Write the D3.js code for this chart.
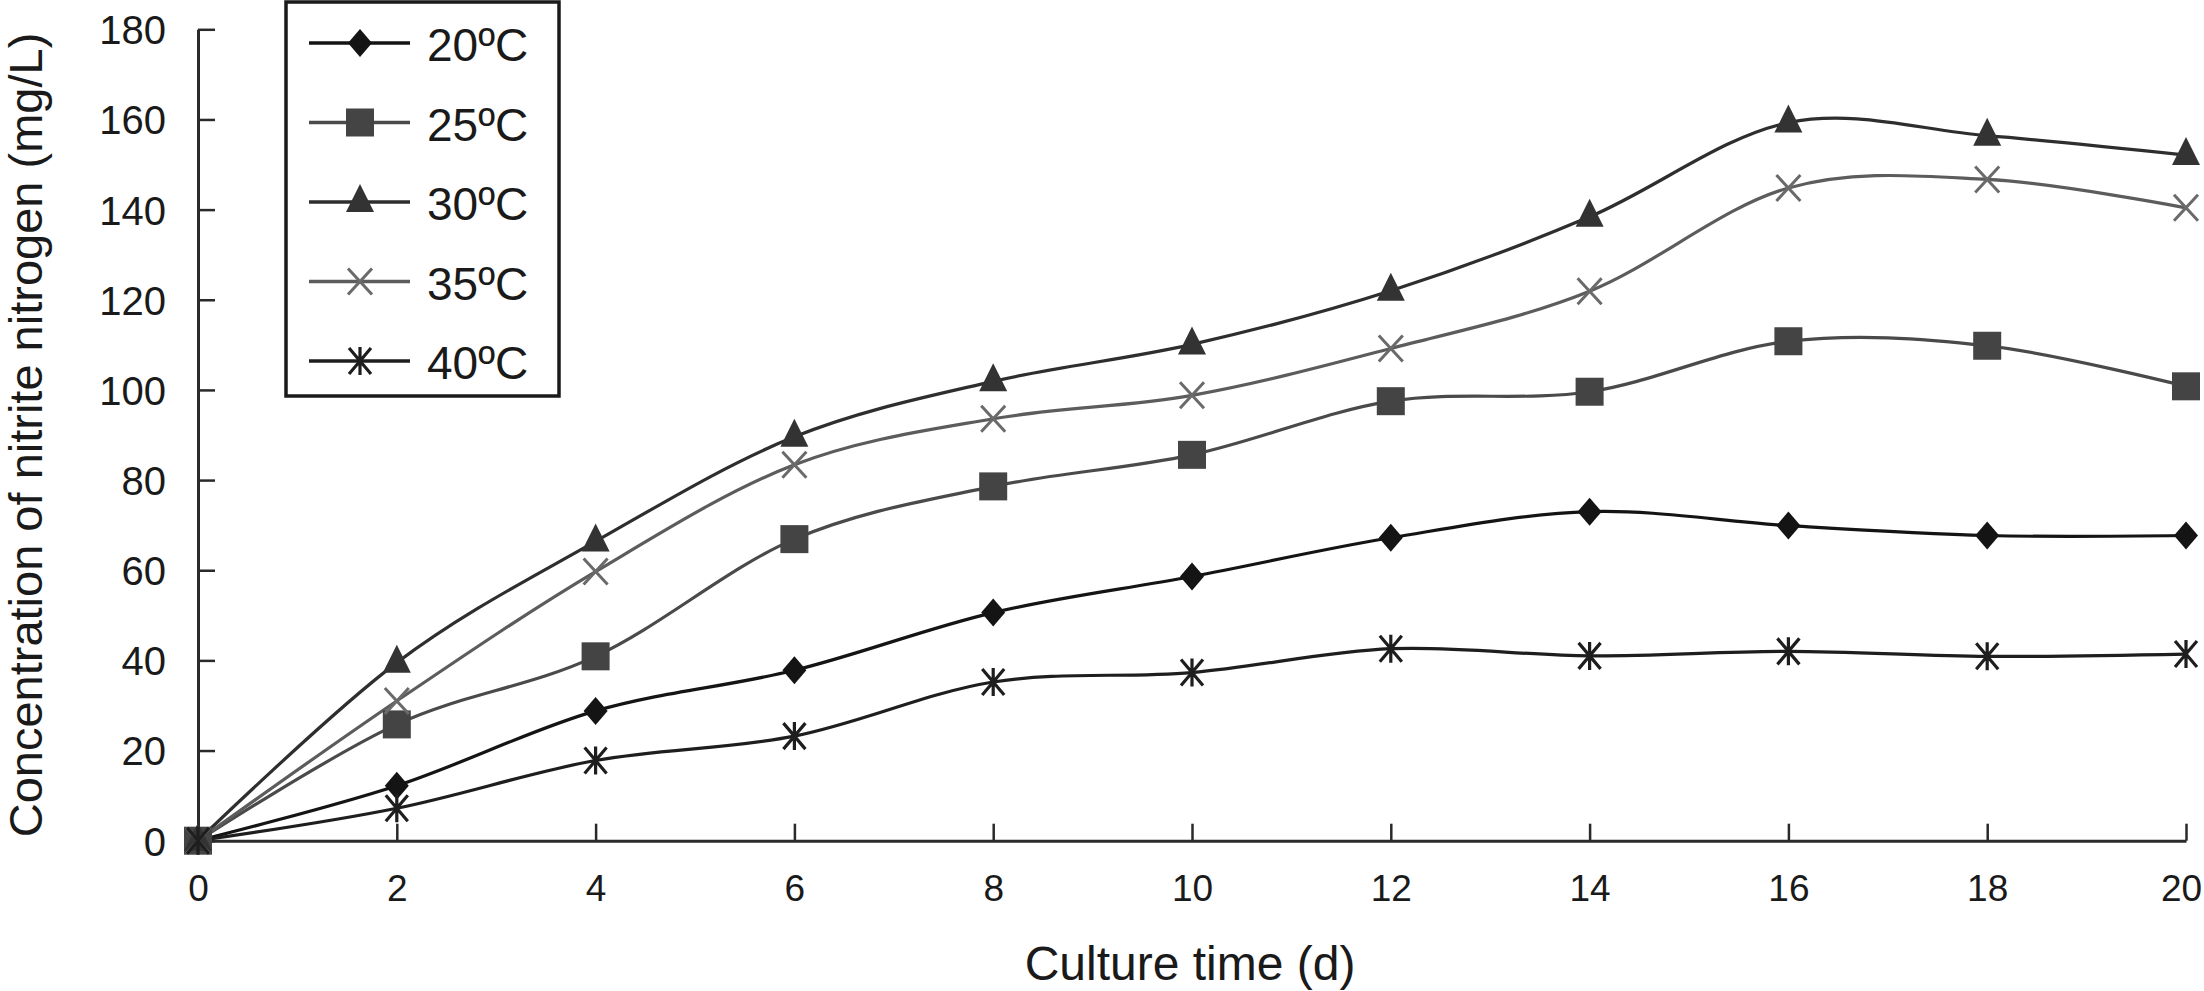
<!DOCTYPE html>
<html>
<head>
<meta charset="utf-8">
<script src="https://cdn.jsdelivr.net/npm/d3@7/dist/d3.min.js"></script>
<style>
  html, body { margin: 0; padding: 0; background: #fff; }
  svg { display: block; }
  text { font-family: "Liberation Sans", Arial, Helvetica, sans-serif; fill: #1a1a1a; }
</style>
</head>
<body>
<svg id="chart" width="2204" height="991"></svg>
<script>
// ---- data ----
const days = [0, 2, 4, 6, 8, 10, 12, 14, 16, 18, 20];
const t20 = [0, 12.2, 28.8, 37.8, 50.6, 58.6, 67.2, 73.0, 69.9, 67.7, 67.7];
const t25 = [0, 25.8, 40.9, 66.9, 78.6, 85.6, 97.5, 99.6, 110.8, 109.8, 100.8];
const t30 = [0, 39.5, 66.4, 89.6, 101.9, 110.1, 122.0, 138.4, 159.3, 156.4, 152.1];
const t35 = [0, 31.0, 59.7, 83.4, 93.6, 98.8, 109.2, 121.9, 144.8, 146.7, 140.4];
const t40 = [0, 7.2, 17.8, 23.2, 35.2, 37.3, 42.6, 41.0, 42.0, 40.9, 41.4];
const seriesNames = ["20ºC", "25ºC", "30ºC", "35ºC", "40ºC"];
const xTicks = [0, 2, 4, 6, 8, 10, 12, 14, 16, 18, 20];
const yTicks = [0, 20, 40, 60, 80, 100, 120, 140, 160, 180];
const xTitle = "Culture time (d)";
const yTitle = "Concentration of nitrite nitrogen (mg/L)";

// ---- styles ----
const styles = [
  { line: "#141414", fill: "#141414", marker: "diamond" },
  { line: "#4a4a4a", fill: "#444444", marker: "square" },
  { line: "#2e2e2e", fill: "#333333", marker: "triangle" },
  { line: "#5c5c5c", fill: "#6a6a6a", marker: "x" },
  { line: "#1e1e1e", fill: "#1e1e1e", marker: "asterisk" }
];
const seriesValues = [t20, t25, t30, t35, t40];
const series = seriesNames.map((name, i) => ({
  name, style: styles[i],
  points: days.map((d, j) => ({ d, v: seriesValues[i][j] }))
}));

const svg = d3.select("#chart");
const x = d3.scaleLinear().domain([0, 20]).range([198, 2186]);
const y = d3.scaleLinear().domain([0, 180]).range([840.7, 29.3]);

// ---- axes ----
const axisColor = "#2a2a2a";
const gx = svg.append("g").attr("transform", `translate(0,${y(0)})`)
  .call(d3.axisBottom(x).tickValues(xTicks).tickSizeInner(-17).tickSizeOuter(0).tickPadding(0).tickFormat(d3.format("d")));
gx.select(".domain").attr("stroke", axisColor).attr("stroke-width", 3);
gx.selectAll(".tick line").attr("stroke", axisColor).attr("stroke-width", 2.5);
gx.selectAll(".tick text").attr("font-size", 37).attr("fill", "#1a1a1a")
  .attr("y", 60).attr("dy", 0)
  .attr("x", d => d === 20 ? -5 : 0)
  .style("font-family", '"Liberation Sans", Arial, sans-serif');

const gy = svg.append("g").attr("transform", `translate(${x(0)},0)`)
  .call(d3.axisLeft(y).tickValues(yTicks).tickSizeInner(-17).tickSizeOuter(0).tickPadding(0).tickFormat(d3.format("d")));
gy.select(".domain").attr("stroke", axisColor).attr("stroke-width", 3);
gy.selectAll(".tick line").attr("stroke", axisColor).attr("stroke-width", 2.5);
gy.selectAll(".tick text").attr("font-size", 40).attr("fill", "#1a1a1a")
  .attr("x", -32).attr("dy", "0.36em")
  .style("font-family", '"Liberation Sans", Arial, sans-serif');

// ---- titles ----
svg.append("text").attr("x", 1190).attr("y", 980)
  .attr("text-anchor", "middle").attr("font-size", 48).text(xTitle);
svg.append("text").attr("transform", "translate(41.5,435) rotate(-90)")
  .attr("text-anchor", "middle").attr("font-size", 47).text(yTitle);

// ---- markers ----
function drawMarker(g, type, cx, cy, st) {
  if (type === "diamond") {
    g.append("path").attr("d", `M${cx},${cy - 14}L${cx + 12},${cy}L${cx},${cy + 14}L${cx - 12},${cy}Z`)
      .attr("fill", st.fill);
  } else if (type === "square") {
    g.append("rect").attr("x", cx - 14).attr("y", cy - 14).attr("width", 28).attr("height", 28)
      .attr("fill", st.fill);
  } else if (type === "triangle") {
    g.append("path").attr("d", `M${cx},${cy - 18}L${cx + 14},${cy + 10}L${cx - 14},${cy + 10}Z`)
      .attr("fill", st.fill);
  } else if (type === "x") {
    g.append("path").attr("d", `M${cx - 12},${cy - 13}L${cx + 12},${cy + 13}M${cx + 12},${cy - 13}L${cx - 12},${cy + 13}`)
      .attr("stroke", st.fill).attr("stroke-width", 3).attr("fill", "none");
  } else if (type === "asterisk") {
    g.append("path").attr("d",
      `M${cx - 11},${cy - 13}L${cx + 11},${cy + 13}M${cx + 11},${cy - 13}L${cx - 11},${cy + 13}M${cx},${cy - 14}L${cx},${cy + 14}`)
      .attr("stroke", st.fill).attr("stroke-width", 3.2).attr("fill", "none");
  }
}

// ---- lines ----
const line = d3.line().x(p => x(p.d)).y(p => y(p.v)).curve(d3.curveCardinal.tension(0));
const plot = svg.append("g");
series.forEach(s => {
  plot.append("path").datum(s.points).attr("d", line)
    .attr("fill", "none").attr("stroke", s.style.line).attr("stroke-width", 3.2);
});
series.forEach(s => {
  const g = plot.append("g");
  s.points.forEach(p => drawMarker(g, s.style.marker, x(p.d), y(p.v), s.style));
});

// ---- legend ----
const lg = svg.append("g");
lg.append("rect").attr("x", 286).attr("y", 2).attr("width", 273).attr("height", 394)
  .attr("fill", "#fff").attr("stroke", "#1a1a1a").attr("stroke-width", 3.5);
const rowY = d3.scalePoint().domain(seriesNames).range([43, 361]);
series.forEach(s => {
  const cy = rowY(s.name);
  lg.append("line").attr("x1", 309).attr("x2", 410).attr("y1", cy).attr("y2", cy)
    .attr("stroke", s.style.line).attr("stroke-width", 3.5);
  drawMarker(lg, s.style.marker, 360, cy, s.style);
  lg.append("text").attr("x", 427).attr("y", cy + 18).attr("font-size", 46).text(s.name);
});
</script>
</body>
</html>
